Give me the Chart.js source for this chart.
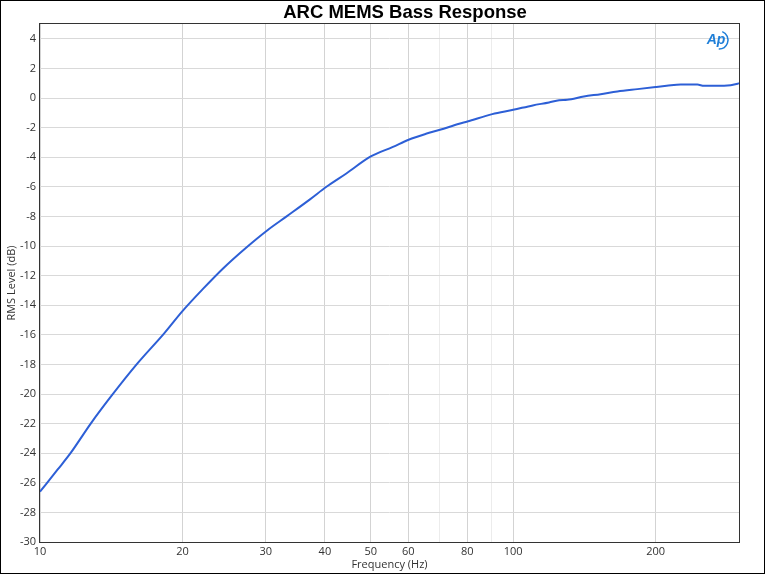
<!DOCTYPE html>
<html>
<head>
<meta charset="utf-8">
<title>ARC MEMS Bass Response</title>
<script src="https://cdn.jsdelivr.net/npm/chart.js@4.4.1/dist/chart.umd.min.js"></script>
<style>
  html, body { margin: 0; padding: 0; background: #fff; }
  #wrap { width: 765px; height: 574px; }
</style>
</head>
<body>
<div id="wrap"><canvas id="bassChart" width="765" height="574"></canvas></div>
<script>
// --- Data ---
const freqHz = [10, 10.9, 11.6, 12.8, 14.1, 16.1, 18.3, 20, 22.1, 24.4, 27.3, 30.2, 33.2, 37.2, 40.3, 44.4,
    50, 55.7, 60.1, 65.4, 70, 76.9, 80, 90.3, 100, 110, 119, 125, 130, 141, 153, 166, 183, 200, 211, 226,
    245, 253, 279, 298, 300];
const levelDb = [-26.6, -25.1, -24.0, -22.0, -20.2, -17.9, -15.9, -14.4, -12.9, -11.5, -10.1, -8.95, -8.0,
    -6.85, -6.0, -5.1, -3.95, -3.3, -2.82, -2.42, -2.15, -1.74, -1.59, -1.09, -0.8, -0.5, -0.3, -0.15, -0.12,
    0.1, 0.26, 0.44, 0.6, 0.74, 0.82, 0.91, 0.91, 0.82, 0.82, 0.96, 1.0];

const xTickValues = [10, 20, 30, 40, 50, 60, 70, 80, 90, 100, 200];
const xTickLabels = ['10', '20', '30', '40', '50', '60', '', '80', '', '100', '200'];
const yTickValues = [-30, -28, -26, -24, -22, -20, -18, -16, -14, -12, -10, -8, -6, -4, -2, 0, 2, 4];

const chartTitle = 'ARC MEMS Bass Response';
const xTitle = 'Frequency (Hz)';
const yTitle = 'RMS Level (dB)';

const tickFont = { family: '"Open Sans", "DejaVu Sans", sans-serif', size: 11 };

// --- Frame, title and logo drawn on top ---
const framePlugin = {
    id: 'frame',
    afterDraw(chart) {
        const { ctx, chartArea: a } = chart;
        ctx.save();
        // plot border
        ctx.strokeStyle = '#333';
        ctx.lineWidth = 1;
        ctx.strokeRect(Math.round(a.left) - 0.5, Math.round(a.top) - 0.5,
            Math.round(a.right - a.left) + 1, Math.round(a.bottom - a.top) + 1);
        // outer frame
        ctx.strokeStyle = '#000';
        ctx.strokeRect(0.5, 0.5, chart.width - 1, chart.height - 1);
        // title
        ctx.fillStyle = '#000';
        ctx.font = 'bold 18.5px "Liberation Sans", Arial, sans-serif';
        ctx.textAlign = 'center';
        ctx.textBaseline = 'middle';
        ctx.fillText(chartTitle, 405, 13);
        // Ap logo
        ctx.fillStyle = '#1f7fd8';
        ctx.font = 'italic bold 14px "Liberation Sans", Arial, sans-serif';
        ctx.fillText('Ap', 716, 40);
        ctx.strokeStyle = '#1f7fd8';
        ctx.lineWidth = 1.5;
        ctx.beginPath();
        ctx.arc(719, 40, 9, -1.2, 1.6);
        ctx.stroke();
        ctx.restore();
    }
};

document.addEventListener('DOMContentLoaded', () => {
    const ctx = document.getElementById('bassChart').getContext('2d');
    new Chart(ctx, {
        type: 'line',
        data: {
            datasets: [{
                data: freqHz.map((f, i) => ({ x: f, y: levelDb[i] })),
                borderColor: '#2d5fd6',
                borderWidth: 2,
                pointRadius: 0,
                cubicInterpolationMode: 'monotone',
                fill: false
            }]
        },
        options: {
            responsive: false,
            animation: false,
            devicePixelRatio: 1,
            layout: { padding: { top: 24, right: 26, bottom: 0, left: 0 } },
            plugins: {
                legend: { display: false },
                tooltip: { enabled: false }
            },
            scales: {
                x: {
                    type: 'logarithmic',
                    min: 10,
                    max: 300,
                    afterBuildTicks: (scale) => {
                        scale.ticks = xTickValues.map(v => ({ value: v }));
                    },
                    afterFit: (scale) => { scale.height = 32; },
                    ticks: {
                        autoSkip: false,
                        maxRotation: 0,
                        padding: 3,
                        color: '#333',
                        font: tickFont,
                        callback: (value) => {
                            const i = xTickValues.indexOf(value);
                            return i >= 0 ? xTickLabels[i] : '';
                        }
                    },
                    grid: {
                        drawTicks: false,
                        color: (c) => {
                            const i = xTickValues.indexOf(c.tick ? c.tick.value : -1);
                            return i >= 0 && xTickLabels[i] === '' ? '#ececec' : '#d3d3d3';
                        }
                    },
                    border: { display: false },
                    title: {
                        display: true,
                        text: xTitle,
                        color: '#333',
                        font: tickFont,
                        padding: { top: 0, bottom: 3 }
                    }
                },
                y: {
                    min: -30,
                    max: 5,
                    afterBuildTicks: (scale) => {
                        scale.ticks = yTickValues.map(v => ({ value: v }));
                    },
                    afterFit: (scale) => { scale.width = 40; },
                    ticks: {
                        padding: 4,
                        color: '#333',
                        font: tickFont
                    },
                    grid: { drawTicks: false, color: '#d9d9d9' },
                    border: { display: false },
                    title: {
                        display: true,
                        text: yTitle,
                        color: '#333',
                        font: tickFont,
                        padding: { top: 5, bottom: 0 }
                    }
                }
            }
        },
        plugins: [framePlugin]
    });
});
</script>
</body>
</html>
